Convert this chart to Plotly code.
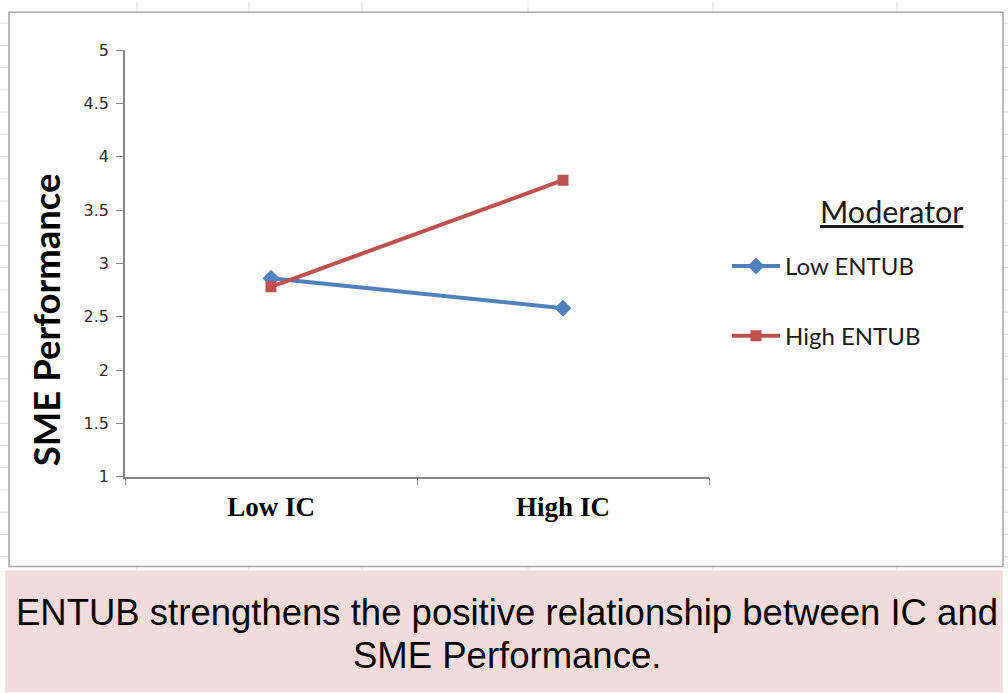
import plotly.graph_objects as go

# Interaction plot data
categories = ["Low IC", "High IC"]
low_entub = [2.86, 2.58]
high_entub = [2.78, 3.78]
y_ticks = [1, 1.5, 2, 2.5, 3, 3.5, 4, 4.5, 5]
y_tick_text = ["1", "1.5", "2", "2.5", "3", "3.5", "4", "4.5", "5"]
caption_lines = ["ENTUB strengthens the positive relationship between IC and",
                 "SME Performance."]

# page layout: the figure sits below the page's 8px top margin and the
# capture is squeezed slightly in height
W, H = 1008, 702
TOP = 8
SQ = 0.976


def px(x):
    return x / W


def py(y):
    return 1 - (y / SQ - TOP) / H


fig = go.Figure()
fig.add_trace(go.Scatter(
    x=categories, y=low_entub, name="Low ENTUB", mode="lines+markers",
    line=dict(color="#4F81BD", width=4),
    marker=dict(symbol="diamond", size=13, color="#4F81BD"),
    legend="legend", showlegend=True,
))
fig.add_trace(go.Scatter(
    x=categories, y=high_entub, name="High ENTUB", mode="lines+markers",
    line=dict(color="#C0504D", width=4),
    marker=dict(symbol="square", size=11, color="#C0504D"),
    legend="legend2", showlegend=True,
))

shapes = []
# spreadsheet cell lines peeking around the chart frame
for gx in [137, 249, 362, 528, 713, 897]:
    shapes.append(dict(type="line", xref="paper", yref="paper",
                       x0=px(gx), x1=px(gx), y0=py(0), y1=py(11),
                       line=dict(color="#D9D9D9", width=1)))
    shapes.append(dict(type="line", xref="paper", yref="paper",
                       x0=px(gx), x1=px(gx), y0=py(567), y1=py(571),
                       line=dict(color="#D9D9D9", width=1)))
gy = 22
while gy < 567:
    for x0, x1 in [(0, 9), (1003, 1008)]:
        shapes.append(dict(type="line", xref="paper", yref="paper",
                           x0=px(x0), x1=px(x1), y0=py(gy), y1=py(gy),
                           line=dict(color="#D9D9D9", width=1)))
    gy += 22.3
# chart frame
shapes.append(dict(type="rect", xref="paper", yref="paper",
                   x0=px(9), x1=px(1003), y0=py(567), y1=py(11),
                   line=dict(color="#A6A6A6", width=1.5), fillcolor="rgba(0,0,0,0)"))
# caption band
shapes.append(dict(type="rect", xref="paper", yref="paper",
                   x0=px(5), x1=px(1003), y0=0, y1=py(571),
                   line=dict(width=0), fillcolor="#F2DCDB", layer="below"))

caption_font = dict(family="Liberation Sans", size=36.5, color="#000000")
annotations = [
    dict(text="SME Performance", xref="paper", yref="paper",
         x=px(46), y=py(320), xanchor="center", yanchor="middle",
         textangle=-90, showarrow=False,
         font=dict(family="Lato", size=36.5, color="#000000", weight="bold")),
    dict(text="<u>Moderator</u>", xref="paper", yref="paper",
         x=px(891), y=py(210), xanchor="center", yanchor="middle",
         showarrow=False, font=dict(family="Lato", size=30.5, color="#1A1A1A")),
    dict(text=caption_lines[0], xref="paper", yref="paper",
         x=px(507), y=py(613), xanchor="center", yanchor="middle",
         showarrow=False, font=caption_font),
    dict(text=caption_lines[1], xref="paper", yref="paper",
         x=px(507), y=py(656), xanchor="center", yanchor="middle",
         showarrow=False, font=caption_font),
]

legend_font = dict(family="Lato", size=24, color="#1A1A1A")
fig.update_layout(
    width=W, height=H,
    margin=dict(l=0, r=0, t=0, b=0),
    paper_bgcolor="white", plot_bgcolor="white",
    showlegend=True,
    shapes=shapes, annotations=annotations,
    legend=dict(x=px(727), y=py(266), xanchor="left", yanchor="middle",
                font=legend_font, bgcolor="rgba(0,0,0,0)", itemwidth=48,
                borderwidth=0, visible=True),
    legend2=dict(x=px(727), y=py(336), xanchor="left", yanchor="middle",
                 font=legend_font, bgcolor="rgba(0,0,0,0)", itemwidth=48,
                 borderwidth=0, visible=True),
    xaxis=dict(
        domain=[px(125), px(709)], type="category", range=[-0.5, 1.5],
        showline=True, linecolor="#868686", linewidth=1.5,
        ticks="outside", tickson="boundaries", ticklen=7, tickcolor="#868686",
        showgrid=False, zeroline=False, ticklabelstandoff=5,
        tickfont=dict(family="Liberation Serif", size=27, color="#000000",
                      weight="bold"),
    ),
    yaxis=dict(
        domain=[py(477), py(49)], range=[1, 5],
        tickvals=y_ticks, ticktext=y_tick_text,
        showline=True, linecolor="#868686", linewidth=1.5,
        ticks="outside", ticklen=7, tickcolor="#868686",
        showgrid=False, zeroline=False, ticklabelstandoff=4,
        tickfont=dict(family="DejaVu Sans", size=16, color="#2B2B2B"),
    ),
)

fig.write_html("out.html")
